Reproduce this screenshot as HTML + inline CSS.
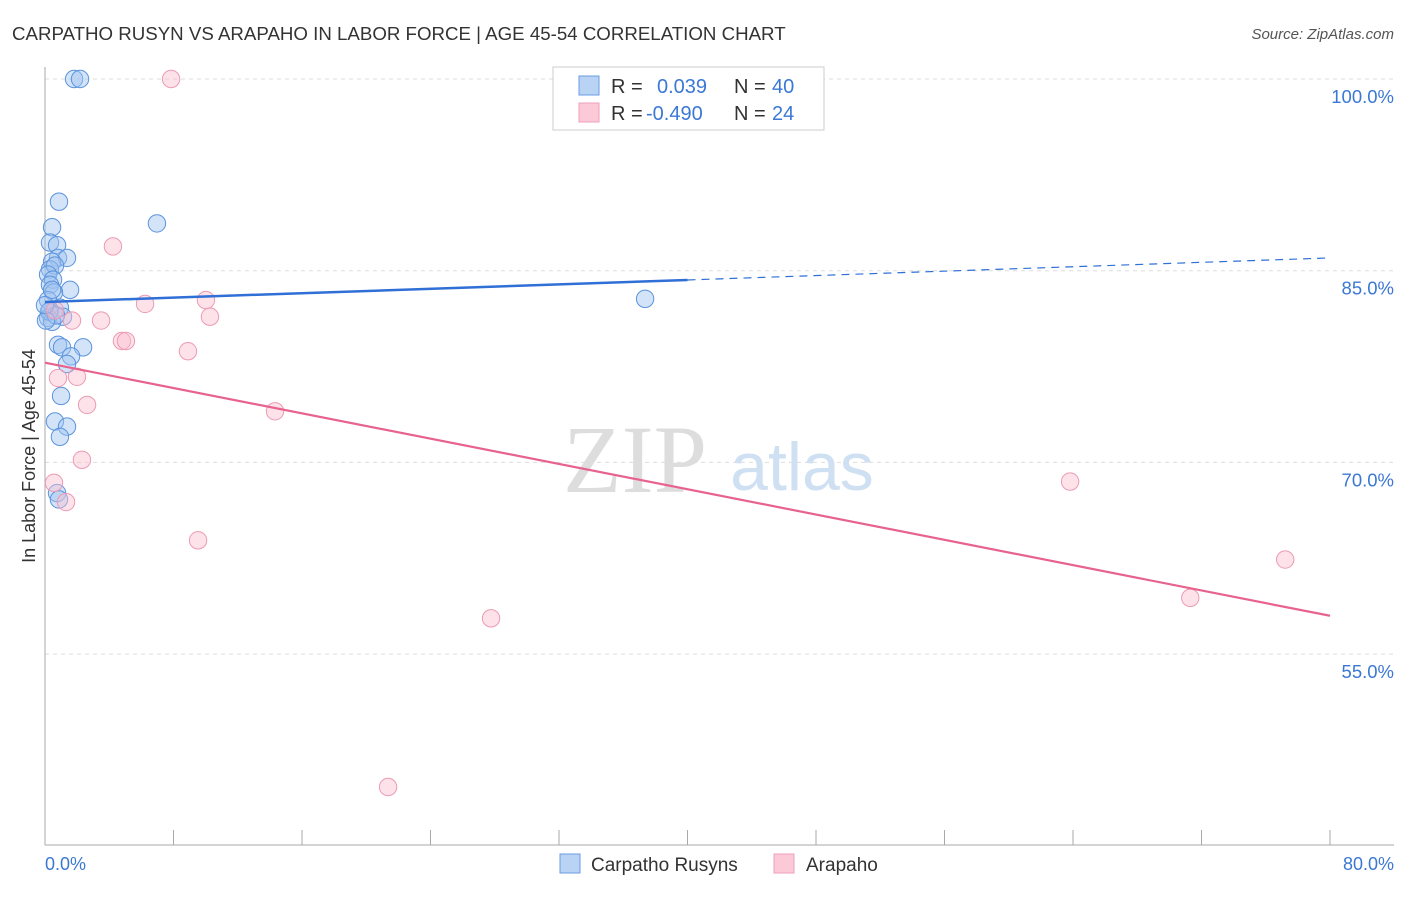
<!DOCTYPE html>
<html><head><meta charset="utf-8"><style>
body{margin:0;background:#fff;font-family:"Liberation Sans",sans-serif}
svg text{font-family:"Liberation Sans",sans-serif}
</style></head><body>
<svg width="1406" height="892" xmlns="http://www.w3.org/2000/svg">
<text x="12" y="40" font-size="18.7" fill="#333">CARPATHO RUSYN VS ARAPAHO IN LABOR FORCE | AGE 45-54 CORRELATION CHART</text>
<text x="1394" y="39" font-size="15" fill="#555" text-anchor="end" font-style="italic">Source: ZipAtlas.com</text>
<g id="grid"></g>
<text x="635" y="492" font-size="96" fill="#ddd" style="font-family:'Liberation Serif',serif" text-anchor="middle">ZIP</text>
<text x="802" y="490" font-size="68" fill="#cfe0f3" text-anchor="middle">atlas</text>
<line x1="45" y1="67" x2="45" y2="845" stroke="#aaa"/>
<line x1="45" y1="845" x2="1394" y2="845" stroke="#aaa"/>
<g id="ticks"></g>
<g id="marks"></g>
<text x="35" y="456" font-size="18" fill="#333" text-anchor="middle" transform="rotate(-90 35 456)">In Labor Force | Age 45-54</text>
<text x="45" y="870" font-size="18" fill="#3b78d4">0.0%</text>
<text x="1394" y="870" font-size="18" fill="#3b78d4" text-anchor="end">80.0%</text>
<g>
<rect x="553" y="67" width="271" height="63" fill="#fff" stroke="#ccc"/>
<rect x="579" y="76" width="20" height="19" fill="#b9d3f5" stroke="#6a9be0"/>
<rect x="579" y="103" width="20" height="19" fill="#fcc9d8" stroke="#eea0b8"/>
<text x="611" y="93" font-size="20" fill="#333">R = </text><text x="657" y="93" font-size="20" fill="#3b78d4">0.039</text>
<text x="734" y="93" font-size="20" fill="#333">N = </text><text x="772" y="93" font-size="20" fill="#3b78d4">40</text>
<text x="611" y="120" font-size="20" fill="#333">R = </text><text x="646" y="120" font-size="20" fill="#3b78d4">-0.490</text>
<text x="734" y="120" font-size="20" fill="#333">N = </text><text x="772" y="120" font-size="20" fill="#3b78d4">24</text>
</g>
<g>
<rect x="560" y="854" width="20" height="19" fill="#b9d3f5" stroke="#6a9be0"/>
<text x="591" y="871" font-size="19" fill="#333">Carpatho Rusyns</text>
<rect x="774" y="854" width="20" height="19" fill="#fcc9d8" stroke="#eea0b8"/>
<text x="806" y="871" font-size="19" fill="#333">Arapaho</text>
</g>
</svg>
<script>
const yTicks=[100,85,70,55];
const xTicks=[0,8,16,24,32,40,48,56,64,72,80];
const blueX=[1.81,2.18,0.87,0.44,6.97,0.31,0.75,0.81,1.37,0.44,0.31,0.62,0.19,0.5,0.31,1.56,0.56,0.19,0.93,0.31,1.12,0.19,0.44,0.81,1.06,2.37,1.62,1.37,1.0,0.62,1.37,0.93,0.75,0.87,37.36,0.25,0.68,0.06,0.0,0.44];
const blueY=[100,100,90.4,88.4,88.7,87.2,87.0,86.0,86.0,85.7,85.1,85.4,84.7,84.3,83.9,83.5,83.3,82.7,82.1,81.9,81.4,81.3,81.0,79.2,79.0,79.0,78.3,77.7,75.2,73.2,72.8,72.0,67.6,67.1,82.8,81.8,81.5,81.1,82.3,83.5];
const pinkX=[7.85,4.23,6.23,10.02,10.27,3.49,1.68,4.79,5.04,8.9,0.81,1.99,2.62,14.32,2.3,0.56,1.31,9.53,27.77,21.36,63.82,77.21,71.3,0.62];
const pinkY=[100,86.9,82.4,82.7,81.4,81.1,81.1,79.5,79.5,78.7,76.6,76.7,74.5,74.0,70.2,68.4,66.9,63.9,57.8,44.6,68.5,62.4,59.4,81.9];
const blueTrend=[82.55,86.0];
const pinkTrend=[77.8,58.0];
const NS="http://www.w3.org/2000/svg";
const X=v=>45+v*(1285/80);
const Y=v=>79+(100-v)*12.78;
function mk(tag,at,parent){const e=document.createElementNS(NS,tag);for(const k in at)e.setAttribute(k,at[k]);document.getElementById(parent).appendChild(e);return e;}
yTicks.forEach(t=>{
 const l=mk('line',{x1:45,x2:1394,y1:Y(t),y2:Y(t),stroke:'#ddd','stroke-dasharray':'4,4'},'grid');
 
 
 const tx=mk('text',{x:1394,y:Y(t)+24,'font-size':18.5,fill:'#3b78d4','text-anchor':'end'},'grid');
 tx.textContent=t.toFixed(1)+'%';
 
 
});
xTicks.forEach(t=>{
 const l=mk('line',{x1:X(t),x2:X(t),y1:830,y2:845,stroke:'#aaa'},'ticks');
 
 
});
blueX.forEach((v,i)=>{
 const c=mk('circle',{cx:X(v),cy:Y(blueY[i]),r:8.7,fill:'rgba(160,196,240,0.45)',stroke:'#5b93dd','stroke-width':1},'marks');
 
 
});
pinkX.forEach((v,i)=>{
 const c=mk('circle',{cx:X(v),cy:Y(pinkY[i]),r:8.7,fill:'rgba(250,190,208,0.45)',stroke:'#ec9ab4','stroke-width':1},'marks');
 
 
});
const bAt=x=>blueTrend[0]+(blueTrend[1]-blueTrend[0])*x/80;
let l1=mk('line',{x1:X(0),y1:Y(bAt(0)),x2:X(40),y2:Y(bAt(40)),stroke:'#2f6fd6','stroke-width':2.5},'marks');


let l2=mk('line',{x1:X(40),y1:Y(bAt(40)),x2:X(80),y2:Y(bAt(80)),stroke:'#2f6fd6','stroke-width':1.2,'stroke-dasharray':'8,6'},'marks');


let l3=mk('line',{x1:X(0),y1:Y(pinkTrend[0]),x2:X(80),y2:Y(pinkTrend[1]),stroke:'#e8628e','stroke-width':2.2},'marks');


</script>
</body></html>
